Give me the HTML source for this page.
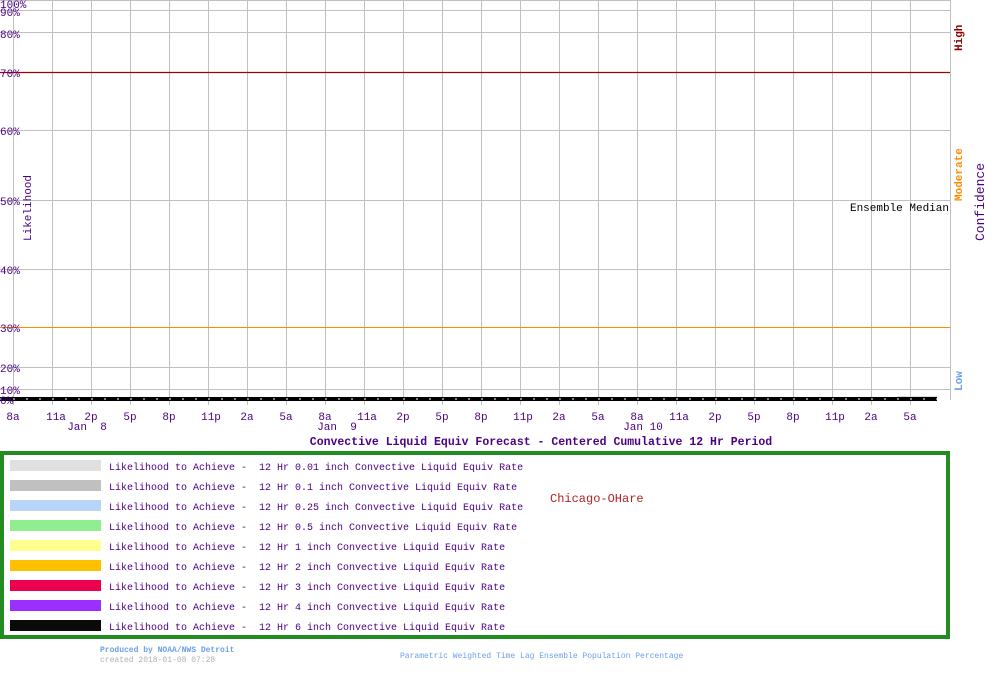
<!DOCTYPE html>
<html><head><meta charset="utf-8"><style>
body{margin:0;background:#fff;width:1000px;height:670px;overflow:hidden}
text{font-family:"Liberation Mono","DejaVu Sans Mono",monospace;white-space:pre}
</style></head><body>
<svg width="1000" height="670" xmlns="http://www.w3.org/2000/svg" xml:space="preserve">
<g stroke="#c0c0c0" stroke-width="1">
<line x1="0" y1="0.5" x2="950" y2="0.5"/>
<line x1="0" y1="10.5" x2="950" y2="10.5"/>
<line x1="0" y1="32.5" x2="950" y2="32.5"/>
<line x1="0" y1="130.5" x2="950" y2="130.5"/>
<line x1="0" y1="200.5" x2="950" y2="200.5"/>
<line x1="0" y1="269.5" x2="950" y2="269.5"/>
<line x1="0" y1="367.5" x2="950" y2="367.5"/>
<line x1="0" y1="389.5" x2="950" y2="389.5"/>
<line x1="950.5" y1="0" x2="950.5" y2="400"/>
</g>
<g stroke="#c0c0c0" stroke-width="1">
<line x1="13.5" y1="0" x2="13.5" y2="405"/><line x1="52.5" y1="0" x2="52.5" y2="405"/><line x1="91.5" y1="0" x2="91.5" y2="405"/><line x1="130.5" y1="0" x2="130.5" y2="405"/><line x1="169.5" y1="0" x2="169.5" y2="405"/><line x1="208.5" y1="0" x2="208.5" y2="405"/><line x1="247.5" y1="0" x2="247.5" y2="405"/><line x1="286.5" y1="0" x2="286.5" y2="405"/><line x1="325.5" y1="0" x2="325.5" y2="405"/><line x1="364.5" y1="0" x2="364.5" y2="405"/><line x1="403.5" y1="0" x2="403.5" y2="405"/><line x1="442.5" y1="0" x2="442.5" y2="405"/><line x1="481.5" y1="0" x2="481.5" y2="405"/><line x1="520.5" y1="0" x2="520.5" y2="405"/><line x1="559.5" y1="0" x2="559.5" y2="405"/><line x1="598.5" y1="0" x2="598.5" y2="405"/><line x1="637.5" y1="0" x2="637.5" y2="405"/><line x1="676.5" y1="0" x2="676.5" y2="405"/><line x1="715.5" y1="0" x2="715.5" y2="405"/><line x1="754.5" y1="0" x2="754.5" y2="405"/><line x1="793.5" y1="0" x2="793.5" y2="405"/><line x1="832.5" y1="0" x2="832.5" y2="405"/><line x1="871.5" y1="0" x2="871.5" y2="405"/><line x1="910.5" y1="0" x2="910.5" y2="405"/>
</g>
<line x1="0" y1="72.5" x2="950" y2="72.5" stroke="#a00000" stroke-width="1.2"/>
<line x1="0" y1="327.5" x2="950" y2="327.5" stroke="#ff8c00" stroke-width="1"/>
<rect x="897" y="396" width="40" height="4" fill="#ddd"/>
<rect x="0" y="397" width="937" height="4" fill="#000"/>
<line x1="0" y1="399" x2="937" y2="399" stroke="#fff" stroke-width="1" stroke-dasharray="2,11"/>
<g fill="#4b0082" font-size="11">
<text x="0" y="8">100%</text><text x="0" y="16">90%</text><text x="0" y="38">80%</text><text x="0" y="77">70%</text><text x="0" y="135">60%</text><text x="0" y="205">50%</text><text x="0" y="274">40%</text><text x="0" y="332">30%</text><text x="0" y="372">20%</text><text x="0" y="394">10%</text><text x="0" y="404">0%</text>
</g>
<text transform="translate(31,241) rotate(-90)" fill="#4b0082" font-size="11">Likelihood</text>
<g fill="#4b0082" font-size="11" text-anchor="middle">
<text x="13" y="420">8a</text><text x="56" y="420">11a</text><text x="91" y="420">2p</text><text x="130" y="420">5p</text><text x="169" y="420">8p</text><text x="211" y="420">11p</text><text x="247" y="420">2a</text><text x="286" y="420">5a</text><text x="325" y="420">8a</text><text x="367" y="420">11a</text><text x="403" y="420">2p</text><text x="442" y="420">5p</text><text x="481" y="420">8p</text><text x="523" y="420">11p</text><text x="559" y="420">2a</text><text x="598" y="420">5a</text><text x="637" y="420">8a</text><text x="679" y="420">11a</text><text x="715" y="420">2p</text><text x="754" y="420">5p</text><text x="793" y="420">8p</text><text x="835" y="420">11p</text><text x="871" y="420">2a</text><text x="910" y="420">5a</text>
<text x="87" y="430">Jan  8</text><text x="337" y="430">Jan  9</text><text x="643" y="430">Jan 10</text>
</g>
<text x="541" y="445" text-anchor="middle" fill="#4b0082" font-size="11.5" font-weight="bold">Convective Liquid Equiv Forecast - Centered Cumulative 12 Hr Period</text>
<text x="949" y="211" text-anchor="end" fill="#000" font-size="11">Ensemble Median</text>
<text transform="translate(962,51) rotate(-90)" fill="#8b0000" font-size="11" font-weight="bold">High</text>
<text transform="translate(962,201) rotate(-90)" fill="#ff8c00" font-size="11" font-weight="bold">Moderate</text>
<text transform="translate(962,391) rotate(-90)" fill="#6aa0e8" font-size="11" font-weight="bold">Low</text>
<text transform="translate(984,241) rotate(-90)" fill="#4b0082" font-size="13">Confidence</text>
<rect x="2" y="453" width="946" height="184" fill="none" stroke="#228b22" stroke-width="4"/>
<g>
<rect x="10" y="460" width="91" height="11" fill="#e0e0e0"/>
<rect x="10" y="480" width="91" height="11" fill="#c0c0c0"/>
<rect x="10" y="500" width="91" height="11" fill="#b8d4f8"/>
<rect x="10" y="520" width="91" height="11" fill="#90ee90"/>
<rect x="10" y="540" width="91" height="11" fill="#ffff90"/>
<rect x="10" y="560" width="91" height="11" fill="#ffc000"/>
<rect x="10" y="580" width="91" height="11" fill="#ee0050"/>
<rect x="10" y="600" width="91" height="11" fill="#9a30ff"/>
<rect x="10" y="620" width="91" height="11" fill="#0a0a0a"/>
</g>
<g fill="#4b0082" font-size="10">
<text x="109" y="470">Likelihood to Achieve -  12 Hr 0.01 inch Convective Liquid Equiv Rate</text>
<text x="109" y="490">Likelihood to Achieve -  12 Hr 0.1 inch Convective Liquid Equiv Rate</text>
<text x="109" y="510">Likelihood to Achieve -  12 Hr 0.25 inch Convective Liquid Equiv Rate</text>
<text x="109" y="530">Likelihood to Achieve -  12 Hr 0.5 inch Convective Liquid Equiv Rate</text>
<text x="109" y="550">Likelihood to Achieve -  12 Hr 1 inch Convective Liquid Equiv Rate</text>
<text x="109" y="570">Likelihood to Achieve -  12 Hr 2 inch Convective Liquid Equiv Rate</text>
<text x="109" y="590">Likelihood to Achieve -  12 Hr 3 inch Convective Liquid Equiv Rate</text>
<text x="109" y="610">Likelihood to Achieve -  12 Hr 4 inch Convective Liquid Equiv Rate</text>
<text x="109" y="630">Likelihood to Achieve -  12 Hr 6 inch Convective Liquid Equiv Rate</text>
</g>
<text x="550" y="502" fill="#b22222" font-size="12">Chicago-OHare</text>
<text x="100" y="652" fill="#6aa0e8" font-size="8" font-weight="bold">Produced by NOAA/NWS Detroit</text>
<text x="100" y="662" fill="#b0b0b0" font-size="8">created 2018-01-08 07:28</text>
<text x="400" y="658" fill="#6aa0e8" font-size="8">Parametric Weighted Time Lag Ensemble Population Percentage</text>
</svg>
</body></html>
